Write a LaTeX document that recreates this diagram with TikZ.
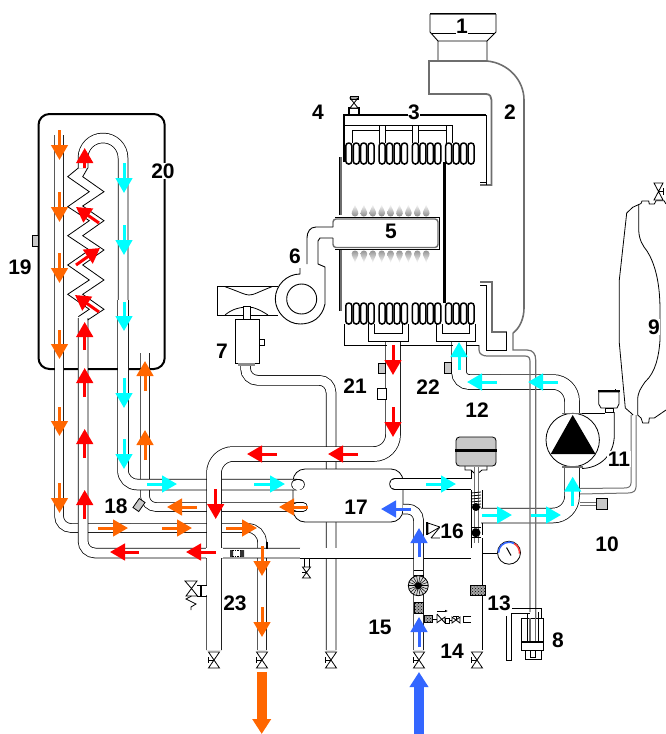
\documentclass[tikz,border=0pt]{standalone}
\usepackage{fontspec}
\setmainfont{Liberation Sans}
\usetikzlibrary{arrows.meta,patterns}
\definecolor{org}{RGB}{255,102,0}
\definecolor{rd}{RGB}{255,0,0}
\definecolor{cy}{RGB}{0,255,255}
\definecolor{bl}{RGB}{51,102,255}
\definecolor{grayfill}{RGB}{200,200,200}
\definecolor{dbl}{RGB}{110,110,110}
\newcommand{\Pipe}[3][]{%
  \draw[line width=#2pt+1.5pt,black,#1] #3;
  \draw[line width=#2pt,white,#1] #3;}
\newcommand{\Arr}[3]{\draw[flowarrow,#1] (#2) -- (#3);}
\newcommand{\Blk}[2]{\fill[black!35] (#1) rectangle (#2); \draw[block] (#1) rectangle (#2);}
\newcommand{\valveV}[2]{%
  \begin{scope}[shift={(#1,#2)}]
  \draw[thinl,fill=white] (-5.5,-8) -- (5.5,-8) -- (-5.5,8) -- (5.5,8) -- cycle;
  \draw[thinl] (-6,0) -- (0,0) (-6,-3) -- (-6,3);
  \end{scope}}
\tikzset{
  thinl/.style={line width=0.8pt,black},
  wall/.style={line width=0.9pt,black},
  heavy/.style={line width=2pt,black},
  flue/.style={line width=1.8pt,dbl},
  coil/.style={line width=1.5pt,black,fill=white,rounded corners=2.8pt},
  flowarrow/.style={line width=3pt,-{Triangle[length=15pt,width=16.5pt]}},
  bigarrow/.style={line width=10pt,-{Triangle[length=15pt,width=18pt]}},
  lab/.style={font=\bfseries\fontsize{21}{21}\selectfont,fill=white,inner sep=0.5pt},
  block/.style={pattern=crosshatch dots,pattern color=black,draw=black,line width=0.5pt},
}
\begin{document}
\begin{tikzpicture}[x=1pt,y=-1pt]
\useasboundingbox (0,0) rectangle (666,734);
% storage tank
\draw[line width=2pt,rounded corners=11pt] (38.5,114) rectangle (164.7,369);
\draw[thinl,fill=grayfill] (32,235) rectangle (38,246);
% condensate trap pipe
\Pipe[rounded corners=12pt]{9}{(245.5,364) -- (245.5,380.3) -- (331,380.3) -- (331,650)}
% plate exchanger
\draw[thinl,fill=white,rounded corners=12pt] (293,469) rectangle (403,522);
% domestic pipes
\Pipe[rounded corners=12pt]{8}{(59,135) -- (59,528) -- (130,528)}
\Pipe[rounded corners=14pt]{8}{(130,528) -- (262,528) -- (262,650)}
\Pipe[rounded corners=12pt]{9}{(83,318) -- (83,553) -- (300,553)}
\Pipe{9.5}{(300,553) -- (472,553)}
% orange & cyan coil return
\Pipe[rounded corners=11pt]{8}{(145,353) -- (145,507) -- (297,507)}
\Pipe[line cap=round]{8}{(297,507) -- (303,507)}
\Pipe[rounded corners=19.9pt]{9}{(83,168) -- (83,138) -- (123,138) -- (123,300)}
\Pipe[rounded corners=14pt]{10}{(123,300) -- (123,484.5) -- (297,484.5)}
\Pipe[line cap=round]{10}{(297,484.5) -- (299,484.5)}
\Pipe[line cap=round]{10}{(395,484) -- (400,484)}
\Pipe{10}{(396,484) -- (471,484)}
% coil zigzag
\draw[thinl] (78.3,168) -- (67.7,176.7) -- (89.3,191.7) -- (67.7,206.7) -- (89.3,220.7) -- (67.7,235.7) -- (89.3,250) -- (67.7,265) -- (89.3,280) -- (67.7,294.3) -- (89.3,309.3) -- (78.3,316.7);
\draw[thinl] (87.7,168) -- (82.7,176.7) -- (104,191.7) -- (82.7,206) -- (104,220.7) -- (82.7,235.7) -- (104,250) -- (82.7,265) -- (104,280) -- (82.7,294.3) -- (104,309.3) -- (87.7,320);
% main flow
\Pipe[rounded corners=19pt]{14}{(393,342) -- (393,454) -- (214,454) -- (214,650)}
\draw[white,line width=9.5pt] (205.5,553) -- (223,553);
% sensors
\draw[thinl,fill=grayfill,rotate around={-35:(139,505)}] (135.5,499.5) rectangle (142.5,510.5);
\draw[thinl,fill=grayfill] (378,363) rectangle (385,373);
\draw[thinl,fill=white] (377,388) rectangle (386,399);
\draw[thinl,fill=grayfill] (444,362) rectangle (451,373);
% pump circuit
\Pipe[rounded corners=10pt]{14}{(459,342) -- (459,382) -- (500,382)}
\Pipe[rounded corners=19pt]{14}{(500,382) -- (572,382) -- (572,414)}
\Pipe[rounded corners=19pt]{14}{(572,466) -- (572,515.5) -- (481,515.5)}
% condensate drain
\draw[line width=1.2pt,dbl] (479,345) -- (479,350) .. controls (479,354) and (483,356) .. (487,356) -- (525,356) .. controls (529,356) and (530,358) .. (530,362) -- (530,612);
\draw[line width=1.2pt,dbl] (513,333) -- (513,350) -- (527,350) .. controls (533,350) and (535.7,354) .. (535.7,360) -- (535.7,640);
% vertical filling pipes
\Pipe{10.5}{(476.5,538) -- (476.5,650)}
\draw[white,line width=9.5pt] (464,553) -- (477,553);
\draw[thinl] (471,470) -- (471,479) (471,490) -- (471,548) (482,490) -- (482,508) (482,523) -- (482,535);
\draw[thinl] (465,466) -- (465,470) -- (471,470) -- (474,473) (487,466) -- (487,470) -- (482,470) -- (478.5,473);
% stem
\draw[line width=1.1pt,dbl] (474.3,467) -- (474.3,543) (478.5,467) -- (478.5,543);
\foreach \yy in {493,496,499,502,505,508} \draw[thinl] (471,\yy) -- (481,\yy-1);
\foreach \yy in {527,537} \draw[thinl] (471,\yy) -- (481,\yy);
\fill (476,507) circle[radius=4pt] (476,532.7) circle[radius=4.5pt];
% expansion tank 12
\draw[thinl,fill=grayfill,rounded corners=3.5pt] (456,437) rectangle (496,466);
\draw[line width=2.8pt] (455,450.7) -- (497,450.7);
% blue pipe
\Pipe[rounded corners=11pt]{9}{(403,509) -- (418.5,509) -- (418.5,650)}
\draw[thinl,fill=white] (428,523) -- (428,534) -- (440,527) -- cycle;
\draw[thinl] (431,538) -- (440,527) (431,538) -- (440,538);
\draw[heavy] (427,522) -- (427,535);
% filter etc
\draw[thinl,fill=white] (414,575) rectangle (423,592);
\draw[thinl] (414,570) -- (423,570);
\draw[thinl,fill=black!15] (418.3,585.7) circle[radius=10pt];
\foreach \a in {0,20,...,340} \draw[line width=0.5pt] (418.3,585.7) -- ++(\a:10pt);
\fill (418.3,585.7) circle[radius=3.5pt];
\Blk{414,602.7}{423,613}
\Blk{424,615.7}{432.3,622.7}
\Blk{470.7,585}{485,595}
% check valve & cock
\draw[thinl] (437,614) -- (437,622.7) -- (445,617) -- (445,623) (437,614) -- (445,623) ;
\draw[thinl] (432.3,619) -- (437,619) (445,618) rectangle (449,623);
\draw[line width=0.7pt,-{Latex[length=3pt,width=2.5pt]}] (437,611) -- (448,611);
\draw[thinl,fill=white] (452,617) -- (452,623) -- (460,617) -- (460,623) -- cycle;
\draw[thinl] (456,620) -- (456,616) (453,616) -- (459,616);
\draw[thinl] (449,620) -- (452,620);
\draw[thinl] (471,616) -- (463.3,616) -- (463.3,622.7) -- (471,622.7);
\draw[white,line width=5.5pt] (469,619.3) -- (473,619.3);
% bottom cocks
\valveV{214}{660} \valveV{262}{660} \valveV{331}{660} \valveV{419}{660} \valveV{477}{660}
% small drain on hot line
\draw[thinl] (304.5,558) -- (304.5,567) (309,558) -- (309,567);
\draw[thinl,fill=white] (302.5,567) -- (310.5,567) -- (302.5,578) -- (310.5,578) -- cycle;
\draw[thinl] (302,572.5) -- (306.5,572.5);
% safety valve
\draw[thinl,fill=white] (185,581) -- (197,581) -- (191.5,588.5) -- cycle;
\draw[thinl] (191.5,588.5) -- (197.5,596) -- (186,596) -- cycle;
\draw[thinl] (191.5,596) -- (186,599) -- (196,604) -- (191,607) -- (191,610);
\draw[thinl] (197,585) -- (206.7,585) (197,596) -- (206.7,596);
\draw[heavy] (201,585) -- (201,596);
\draw[white,line width=9pt] (202,590.5) -- (208,590.5);
% in-line valve
\fill[black!80] (230,550) rectangle (233,557) (240,550) rectangle (244,557);
\draw[line width=1pt,dash pattern=on 1.5pt off 1pt] (232,550.5) -- (242,550.5) (232,556) -- (242,556);
\draw[heavy] (266.5,542) -- (266.5,549);
% gauge
\draw[thinl] (482,553) -- (497,553);
\draw[thinl,fill=white] (509,552.7) circle[radius=11.5pt];
\draw[line width=1.6pt,bl] (509,552.7) ++(180:10.5pt) arc[start angle=180,end angle=60,radius=10.5pt];
\draw[line width=1.6pt,rd!70!pink] (509,552.7) ++(60:10.5pt) arc[start angle=60,end angle=-5,radius=10.5pt];
\draw[line width=1pt] (506.5,547.5) -- (511,555.5);
% device 8 and tube 13
\draw[thinl] (512,608.3) -- (541,608.3) -- (541,618);
\draw[thinl,fill=white] (521.7,618) rectangle (543.3,650);
\draw[thinl] (527,613.3) -- (527,641) (538,612) -- (538,641);
\draw[thinl] (525,650) -- (525,659) -- (541,659) -- (541,650);
\draw[thinl] (530,650) -- (530,657) -- (535.7,657) -- (535.7,650);
\draw[line width=1.2pt,dbl] (530,618) -- (530,641) (535.7,618) -- (535.7,641);
\draw[line width=2.2pt] (521.7,641.7) -- (543.3,641.7);
\draw[thinl] (506,616) -- (506,660) -- (511.7,660) -- (511.7,613.3) -- (530,613.3);
% pump
\draw[thinl,fill=white] (572.7,440) circle[radius=26.7pt];
\fill (572.7,415) -- (550.7,454) -- (595.5,454) -- cycle;
\draw[line width=1.5pt,dbl] (562,413.5) -- (583,413.5) (562,467) -- (583,467);
\draw[thinl] (582,413) -- (605,413);
\draw[thinl] (614.3,412) -- (614.3,435) .. controls (614.3,455) and (600,468) .. (582,468.5);
\draw[thinl,fill=white] (598.7,392) -- (598.7,404) -- (601,408) -- (617,408) -- (619,404) -- (619,392) -- cycle;
\draw[heavy] (598,391) -- (619.5,391);
\draw[thinl] (615,391) -- (615,388.5);
\draw[thinl,fill=white] (605,408) rectangle (613,412.5);
% vessel feed
\draw[line width=1pt,dbl] (631,415) -- (631,483) .. controls (631,487) and (628,488) .. (624,488) -- (580,488.5);
\draw[line width=1pt,dbl] (636,415) -- (636,487) .. controls (636,491) and (633,493) .. (628,493) -- (580,494);
\draw[line width=1pt,dbl] (580,502) -- (596,502) (580,505) -- (596,505);
\draw[thinl,fill=grayfill] (596,498) rectangle (607,509);
% vessel 9
\draw[thinl] (633,415) -- (631,413) -- (625.3,408) -- (619.3,343) -- (619.3,280) -- (626.7,213) -- (632.7,207.3) -- (641,203.5) -- (642,201) -- (648.7,201) -- (649.3,204) -- (654.3,204) -- (656,200.7) -- (664,200.7) -- (666,204);
\draw[thinl] (638.7,204) -- (638.7,230) .. controls (639,240) and (643,246) .. (647,251) .. controls (654,262) and (660,280) .. (660,310) -- (660,340) .. controls (659,355) and (656,372) .. (645,382) .. controls (641,388) and (637.7,392) .. (637.7,400) -- (637.7,415) -- (641,418) -- (642.7,423) -- (648.7,423) -- (649.3,418) -- (654.3,418) -- (666,410);
\draw[thinl,fill=white] (654,183) -- (663,183) -- (654,200) -- (663,200) -- cycle;
\draw[thinl] (663,188) -- (663,195) (658.5,191.5) -- (663,191.5);
% flue
\draw[line width=1pt,dbl] (430,14.5) -- (496,14.5);
\draw[wall] (430,13.5) -- (496,13.5);
\draw[wall] (430,14) -- (430,32) -- (438,41) -- (438,61) (496,14) -- (496,32) -- (487,41) -- (487,61) (438,41) -- (487,41);
\draw[wall] (431.5,33) -- (494.5,33);
\draw[flue] (429,61) -- (487,61);
\draw[flue] (429,60) -- (429,94) -- (486,94) .. controls (490,94) and (491.5,97) .. (491.5,100) -- (491.5,185) -- (480,185);
\draw[line width=1.6pt,dbl] (487,61) .. controls (508,63) and (524,80) .. (524,100) -- (524,308) .. controls (524,318) and (520,328) .. (513,333);
\draw[flue] (480,282) -- (491.7,282) -- (491.7,331.7) -- (506.7,331.7);
\draw[wall] (486.5,185) -- (486.5,115) (486.5,182.5) -- (480,182.5);
\draw[wall] (506.7,331.7) -- (506.7,350) -- (486.7,350) -- (486.7,285) -- (480,285);
% exchanger outer
\draw[heavy] (344,162) -- (344,115) -- (486,115);
\draw[heavy] (349,115) -- (349,108) -- (359,108) -- (359,115);
\draw[thinl,fill=white] (350,108) -- (358,108) -- (350,98) -- (358,98) -- cycle;
\draw[thinl] (350,96) rectangle (358,99);
\draw[line width=1pt] (344,125) -- (452,125) -- (452,143) (379,125) -- (379,143) (385,125) -- (385,143) (412,125) -- (412,143) (418,125) -- (418,143) (446,125) -- (446,143);
\draw[line width=0.9pt] (352,143) -- (352,130) -- (379,130) (385,130) -- (412,130) (418,130) -- (446,130);
\draw[line width=2.4pt] (444.3,162) -- (444.3,303);
\foreach \g in {0,1,2,3} \foreach \i in {0,1,2,3} {
  \pgfmathsetmacro{\xx}{348.8+7.45*\i+33.3*\g}
  \draw[coil] (\xx-3,143) rectangle (\xx+3,164);
  \draw[coil] (\xx-3,303) rectangle (\xx+3,324);
}
\draw[thinl] (344,324) -- (344,345) -- (479,345);
\draw[thinl] (368,324) -- (368,341) -- (408,341) -- (408,324) (374,324) -- (374,333) -- (402,333) -- (402,324);
\draw[thinl] (436,324) -- (436,341) -- (475,341) -- (475,324) (442,324) -- (442,333) -- (469,333) -- (469,324);
\draw[white,line width=13pt] (393,346) -- (393,342);
\draw[white,line width=13pt] (459,346) -- (459,342);
\draw[line width=1.6pt,dbl] (341,157) -- (341,215) (341,250) -- (341,311);
\draw[line width=0.5pt] (339,157) -- (339,215) (339,250) -- (339,311);
% flames
\foreach \i in {0,...,8} {
  \pgfmathsetmacro{\xx}{355+8.9*\i}
  \shade[top color=white,bottom color=black!50] (\xx,204) .. controls (\xx+0.8,208) and (\xx+3.6,211) .. (\xx+3.3,213.5) .. controls (\xx+2.9,217.5) and (\xx-2.9,217.5) .. (\xx-3.3,213.5) .. controls (\xx-3.6,211) and (\xx-0.8,208) .. (\xx,204);
  \shade[top color=black!45,bottom color=white] (\xx,263) .. controls (\xx+0.8,259) and (\xx+3.6,256) .. (\xx+3.3,253.5) .. controls (\xx+2.9,249.5) and (\xx-2.9,249.5) .. (\xx-3.3,253.5) .. controls (\xx-3.6,256) and (\xx-0.8,259) .. (\xx,263);
}
% burner
\draw[flue,line width=1.4pt,fill=white,rounded corners=3pt] (333,227) -- (333,219) -- (438,219) -- (438,247.5) -- (333,247.5) -- (333,238);
\draw[thinl] (335,217.5) -- (439.5,217.5) -- (439.5,249) -- (335,249);
% fan and duct
\draw[wall] (333,227) -- (316,227) .. controls (310,227) and (307,232) .. (307,238) -- (307,264);
\draw[wall] (333,238) -- (320,238) -- (318,241) -- (318,264) -- (325,267) -- (325,304) .. controls (322,318) and (312,324) .. (300,324) .. controls (287,324) and (275.3,312) .. (275.3,299) .. controls (275.3,285) and (287,274) .. (300,274) -- (300,268);
\draw[wall] (301.7,284) .. controls (310,284) and (316.7,291) .. (316.7,299) .. controls (316.7,307) and (310,314) .. (301.7,314) .. controls (293,314) and (286.7,307) .. (286.7,299) .. controls (286.7,291) and (293,284) .. (301.7,284);
\draw[wall] (278,286.7) -- (217.7,286.7) -- (217.7,315) -- (278,315);
\draw[thinl] (225,286.7) .. controls (240,292) and (245,295) .. (249,295) .. controls (254,295) and (258,292) .. (272,286.7);
\draw[thinl] (225,315) .. controls (232,309) and (240,307) .. (249,307) .. controls (254,307) and (262,311) .. (268,315);
% trap 7
\draw[thinl,fill=white] (243,319) -- (243,306) -- (250,306) -- (250,319);
\draw[thinl,fill=white] (235.7,319) rectangle (259,363);
\draw[thinl] (259,339) -- (264.3,339) -- (264.3,345) -- (259,345);
\fill[black!45] (238,363) rectangle (255,365.5);
% arrows
\Arr{org}{59.5,130}{59.5,160} \Arr{org}{59.5,192}{59.5,222} \Arr{org}{59.5,253}{59.5,283} \Arr{org}{59.5,330}{59.5,359}
\Arr{org}{59.5,407}{59.5,436} \Arr{org}{59.5,483}{59.5,513}
\Arr{rd}{84.7,168}{84.7,148} \Arr{rd}{99,223}{76,207} \Arr{rd}{76,265}{100,248} \Arr{rd}{99,312}{75,295}
\Arr{rd}{84.7,350}{84.7,322} \Arr{rd}{84.7,397}{84.7,368} \Arr{rd}{84.7,458}{84.7,429} \Arr{rd}{84.7,519}{84.7,490}
\Arr{cy}{124,163}{124,193} \Arr{cy}{124,225}{124,255} \Arr{cy}{124,302}{124,331} \Arr{cy}{124,378}{124,408} \Arr{cy}{124,439}{124,469}
\Arr{org}{145,391}{145,361} \Arr{org}{145,460}{145,430}
\Arr{cy}{147,484}{177,484} \Arr{cy}{254,484}{285,484} \Arr{cy}{426,484}{456,484}
\Arr{org}{197,507}{167,507} \Arr{org}{308,507}{279,507}
\Arr{rd}{215.7,489}{215.7,519}
\Arr{org}{98,528}{128,528} \Arr{org}{162,528}{192,528} \Arr{org}{226,528}{257,528}
\Arr{org}{262,546}{262,576} \Arr{org}{262,607}{262,637}
\Arr{rd}{139,552}{110,552} \Arr{rd}{216,552}{186,552}
\Arr{rd}{277,454}{247,454} \Arr{rd}{358,454}{328,454}
\Arr{rd}{393,345}{393,375} \Arr{rd}{393,407}{393,437}
\Arr{cy}{459,370}{459,342} \Arr{cy}{497,382}{467,382} \Arr{cy}{558,382}{528,382}
\Arr{cy}{482,515}{512,515} \Arr{cy}{531,515}{561,515} \Arr{cy}{572.7,505.7}{572.7,476.7}
\Arr{bl}{411,509}{381,509} \Arr{bl}{419,557}{419,528} \Arr{bl}{419,647}{419,617}
\draw[bigarrow,org] (261.7,672) -- (261.7,734);
\draw[bigarrow,bl] (419,734) -- (419,672);
% labels
\node[lab] (n1) at (462,26) {1};
\node[lab] (n2) at (510,112) {2};
\node[lab] (n3) at (414,112) {3};
\node[lab] (n4) at (318,112) {4};
\node[lab] (n5) at (391,231) {5};
\node[lab] (n6) at (295,256) {6};
\node[lab] (n7) at (222,351) {7};
\node[lab] (n8) at (558,640) {8};
\node[lab] (n9) at (654,327) {9};
\node[lab] (n10) at (607,544) {10};
\node[lab] (n11) at (619,459) {11};
\node[lab] (n12) at (477,410) {12};
\node[lab] (n13) at (499,603) {13};
\node[lab] (n14) at (452,651) {14};
\node[lab] (n15) at (380,627) {15};
\node[lab] (n16) at (452,531) {16};
\node[lab] (n17) at (356,507) {17};
\node[lab] (n18) at (116,506) {18};
\node[lab] (n19) at (20,267) {19};
\node[lab] (n20) at (163,171) {20};
\node[lab] (n21) at (355,386) {21};
\node[lab] (n22) at (428,387) {22};
\node[lab] (n23) at (235,603) {23};
\end{tikzpicture}
\end{document}
